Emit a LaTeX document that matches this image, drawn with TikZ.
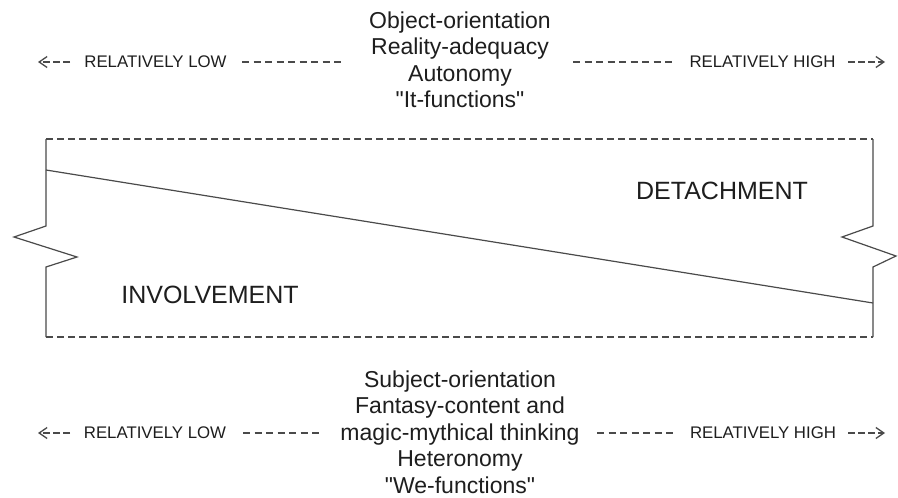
\documentclass[tikz,border=0pt]{standalone}
\usepackage{fontspec}
\newfontfamily\lsans{Liberation Sans}
\usetikzlibrary{arrows.meta}
\definecolor{linegray}{HTML}{4A4A4A}
\definecolor{txt}{HTML}{1E1E1E}
\begin{document}
\begin{tikzpicture}[x=1pt,y=-1pt,
  frame/.style={draw=linegray, line width=1.2pt, line join=miter},
  dframe/.style={frame, dash pattern=on 7pt off 4pt},
  dashseg/.style={draw=linegray, line width=1.3pt, dash pattern=on 7pt off 4.5pt},
  arrowseg/.style={draw=linegray, line width=1.3pt, dash pattern=on 7pt off 3pt, -{Straight Barb[length=8pt,width=11pt,line width=1.3pt]}},
  side/.style={font=\lsans\fontsize{16.8}{20}\selectfont, text=txt, inner sep=0pt},
  big/.style={font=\lsans\fontsize{25}{30}\selectfont, text=txt, inner sep=0pt},
  ctr/.style={font=\lsans\fontsize{23}{26.5}\selectfont, text=txt, align=center, inner sep=0pt}
]
\fill[white] (0,0) rectangle (898,498);
\useasboundingbox (0,0) rectangle (898,498);

% frame
\coordinate (TL) at (46,139);
\coordinate (TR) at (873,139);
\coordinate (BL) at (46,337);
\coordinate (BR) at (873,337);
\draw[dframe] (TL) -- (TR);
\draw[dframe] (BL) -- (BR);
\draw[frame] (TL) -- (46,226) -- (14,237) -- (77,257) -- (46,267) -- (BL);
\draw[frame] (TR) -- (873,226) -- (842,237) -- (896,256) -- (873,267) -- (BR);
\coordinate (diagL) at (46,170);
\coordinate (diagR) at (873,303);
\draw[frame] (diagL) -- (diagR);

% labels inside
\node[big] (det) at (722,191) {DETACHMENT};
\node[big] (inv) at (210,295) {INVOLVEMENT};

% top block
\node[ctr] (topc) at (460,60) {Object-orientation\\Reality-adequacy\\Autonomy\\"It-functions"};
\node[side] (lowT) at (155.5,62) {RELATIVELY LOW};
\node[side] (highT) at (762.5,62) {RELATIVELY HIGH};
\coordinate (tA1) at (70,62);  \coordinate (tA2) at (38,62);
\coordinate (tD1) at (242,62); \coordinate (tD2) at (345,62);
\coordinate (tD3) at (573,62); \coordinate (tD4) at (675,62);
\coordinate (tA3) at (848,62); \coordinate (tA4) at (885,62);
\draw[arrowseg] (tA1) -- (tA2);
\draw[dashseg] (tD1) -- (tD2);
\draw[dashseg] (tD3) -- (tD4);
\draw[arrowseg] (tA3) -- (tA4);

% bottom block
\node[ctr] (botc) at (460,432) {Subject-orientation\\Fantasy-content and\\magic-mythical thinking\\Heteronomy\\"We-functions"};
\node[side] (lowB) at (155,433) {RELATIVELY LOW};
\node[side] (highB) at (763,433) {RELATIVELY HIGH};
\coordinate (bA1) at (70,433);  \coordinate (bA2) at (38,433);
\coordinate (bD1) at (243,433); \coordinate (bD2) at (323,433);
\coordinate (bD3) at (597,433); \coordinate (bD4) at (677,433);
\coordinate (bA3) at (848,433); \coordinate (bA4) at (885,433);
\draw[arrowseg] (bA1) -- (bA2);
\draw[dashseg] (bD1) -- (bD2);
\draw[dashseg] (bD3) -- (bD4);
\draw[arrowseg] (bA3) -- (bA4);
\end{tikzpicture}
\end{document}
